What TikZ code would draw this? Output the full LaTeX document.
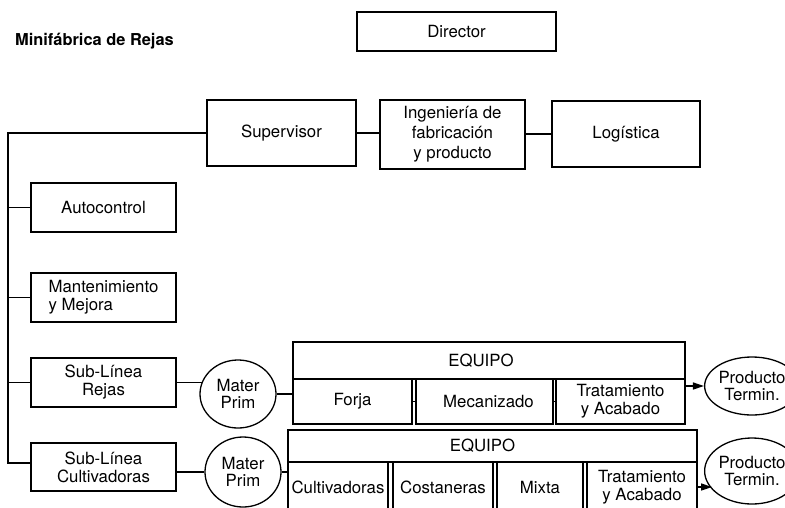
\documentclass[tikz,border=0pt]{standalone}
\usepackage{fontspec}
\setmainfont{TeX Gyre Heros}
\usetikzlibrary{shapes.geometric,arrows.meta}

\newcommand{\lbl}{\fontsize{16.8pt}{18pt}\selectfont}
\newcommand{\lbltight}{\fontsize{16.8pt}{17pt}\selectfont}

\tikzset{
  line/.style={line width=1.3pt},
  box/.style 2 args={draw, line width=1.3pt, inner sep=0pt, align=center,
    font=\lbl, minimum width=#1pt, minimum height=#2pt},
  oval/.style 2 args={draw, ellipse, line width=1.3pt, inner sep=0pt,
    align=center, font=\lbltight, minimum width=#1pt, minimum height=#2pt},
  arr/.style={line width=1.3pt, -{Triangle[length=11pt,width=7pt]}},
}

\begin{document}
\begin{tikzpicture}[x=1pt,y=-1pt]
\useasboundingbox (0,0) rectangle (785,507);

% heading
\node[anchor=west, inner sep=0pt, font=\fontsize{16.4pt}{18pt}\selectfont\bfseries] (title) at (15,41) {Minifábrica de Rejas};

% top boxes
\node[box={199}{39}] (dir) at (456.5,31.5) {Director};
\node[box={149}{66}] (sup) at (281.5,133) {Supervisor};
\node[box={145}{69}, font=\fontsize{16.8pt}{20pt}\selectfont] (ing) at (452.5,134.5) {Ingeniería de\\fabricación\\y producto};
\node[box={148}{66}] (log) at (626,134) {Logística};

% left column
\node[box={145}{49}] (auto) at (103.5,207.5) {Autocontrol};
\node[box={145}{49}, align=left] (mant) at (103.5,297.5) {Mantenimiento\\ y Mejora};
\node[box={145}{49}] (sl1) at (103.5,382.5) {Sub-Línea\\Rejas};
\node[box={145}{48}] (sl2) at (103.5,467) {Sub-Línea\\Cultivadoras};

% raw material
\node[oval={76}{68}] (mat1) at (238,394) {Mater\\Prim};
\node[oval={76}{70}] (mat2) at (243,472) {Mater\\Prim};

% equipment, line 1
\node[box={392}{37}] (eq1) at (489,360.5) {EQUIPO\hspace*{16pt}};
\node[box={119}{45}] (forja) at (352.5,401.5) {Forja};
\node[box={137}{45}] (mec) at (484.5,401.5) {\hspace*{8pt}Mecanizado};
\node[box={129}{45}] (trat1) at (620.5,401.5) {Tratamiento\\y Acabado};

% equipment, line 2
\node[box={409}{32}] (eq2) at (492.5,446) {EQUIPO\hspace*{20pt}};
\node[box={100}{50}] (cult) at (338,487) {Cultivadoras};
\node[box={100}{50}] (cost) at (443,487) {Costaneras};
\node[box={86}{50}] (mixta) at (540,487) {Mixta};
\node[box={110}{50}] (trat2) at (642,487) {Tratamiento\\y Acabado};

% finished product
\node[oval={78}{58}] (prod1) at (752,386) {Producto\\Termin.};
\node[oval={80}{66}] (prod2) at (752,471) {Producto\\Termin.};

% staff links
\draw[line] (sup.east) -- (sup.east -| ing.west);
\draw[line] (log.west) -- (log.west -| ing.east);

% left bus
\coordinate (bt) at (8,133);
\coordinate (bb) at (8,463);
\draw[line] (sup.west) -- (bt) -- (bb) -- (bb -| sl2.west);
\draw[line] (auto.west) -- (auto.west -| bt);
\draw[line] (mant.west) -- (mant.west -| bt);
\draw[line] (sl1.west) -- (sl1.west -| bt);

% line 1 flow
\draw[line] (sl1.east) -- (sl1.east -| mat1.162);
\draw[line] (mat1.east) -- (mat1.east -| forja.west);
\draw[line] (forja.east) -- (mec.west);
\draw[line] (mec.east) -- (trat1.west);
\draw[arr] (prod1.west -| trat1.east) -- (prod1.west);

% line 2 flow
\draw[line] (mat2.west) -- (mat2.west -| sl2.east);
\draw[line] (mat2.east) -- (mat2.east -| cult.west);
\draw[arr] (trat2.east) -- (trat2.east -| prod2.205);
\end{tikzpicture}
\end{document}
